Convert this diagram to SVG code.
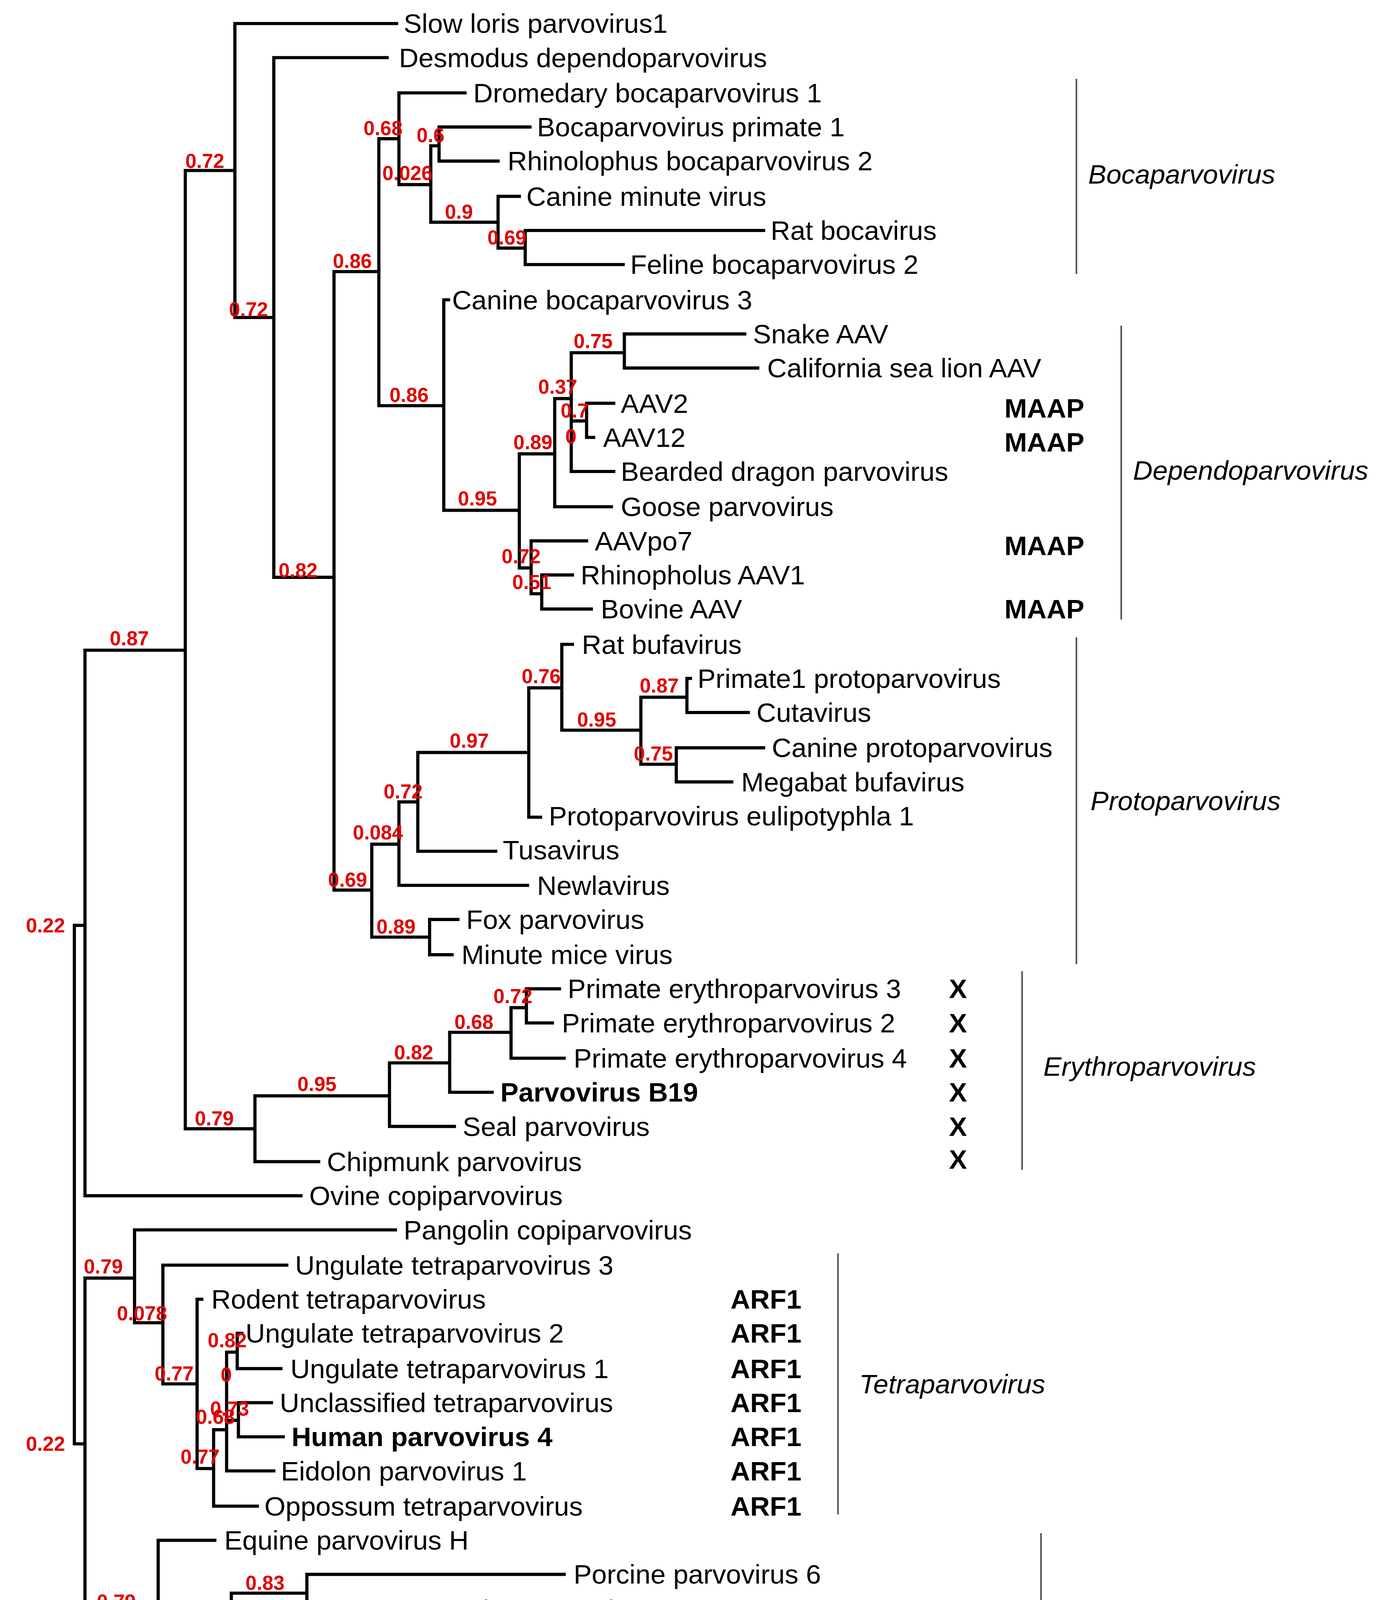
<svg xmlns="http://www.w3.org/2000/svg" width="3536" height="4719" viewBox="0 0 3536 4719">
<style>
.e{fill:none;stroke:#000;stroke-width:2.7;stroke-linecap:square}
.c{fill:none;stroke:#555;stroke-width:1.4}
.t{font-family:"Liberation Sans",Arial,sans-serif;font-size:23px;fill:#000}
.b{font-weight:bold}
.s{font-family:"Liberation Sans",Arial,sans-serif;font-size:17px;font-weight:bold;fill:#e00000}
.k{font-family:"Liberation Sans",Arial,sans-serif;font-size:23px;font-style:italic;fill:#000}
.m{font-family:"Liberation Sans",Arial,sans-serif;font-size:23px;font-weight:bold;fill:#000}
</style>
<rect width="3536" height="4719" fill="#fff"/>
<g transform="scale(3.022,3.01)">
<g id="connectors">
<path class="e" d="M63,787V1228M63,787H72M63,1228H72
M72,553V1017M72,1017H255
M72,553H157M157,145V960
M157,145H199M199,20V270M199,20H336
M199,270H232M232,49V491M232,49H328
M232,491H283M283,231V757
M283,231H321M321,118V345
M321,118H338M338,79V157M338,79H394
M338,157H365M365,124V189
M365,124H372M372,108V137M372,108H449M372,137H422
M365,189H422M422,167V211M422,167H440
M422,211H445M445,196V225M445,196H647M445,225H528
M321,345H376M376,255V434M376,255H380
M376,434H440M440,386V483
M440,386H470M470,339V431M470,431H518
M470,339H484M484,300V401M484,401H520
M484,300H529M529,284V313M529,284H631M529,313H642
M484,358H497M497,343V372M497,343H520M497,372H503
M440,483H450M450,460V505M450,460H497
M450,505H459M459,489V518M459,489H485M459,518H501
M283,757H315M315,718V797
M315,718H338M338,682V753M338,753H447
M338,682H354M354,640V724M354,724H420
M354,640H448M448,585V695M448,695H458
M448,585H476M476,548V621M476,548H485
M476,621H543M543,593V650
M543,593H582M582,577V606M582,577H585M582,606H634
M543,650H573M573,636V665M573,636H647M573,665H620
M315,797H364M364,782V812M364,782H388M364,812H383
M157,960H216M216,932V988M216,988H270
M216,932H330M330,904V958M330,958H385
M330,904H381M381,878V929M381,929H417
M381,878H433M433,857V900M433,900H478
M433,857H446M446,841V870M446,841H474M446,870H468
M72,1087V1372
M72,1087H114M114,1046V1125M114,1046H335
M114,1125H138M138,1076V1177M138,1076H243
M138,1177H167M167,1105V1249M167,1105H171
M167,1249H181M181,1216V1281M181,1281H218
M181,1216H192M192,1150V1251M192,1251H232
M192,1150H201M201,1134V1164M201,1134H205M201,1164H238
M192,1208H202M202,1193V1222M202,1193H230M202,1222H240
M72,1372H134M134,1310V1434M134,1310H182
M134,1434H196M196,1355V1483
M196,1355H260M260,1339V1369M260,1339H478M260,1369H355
M196,1413H253M253,1398V1427M253,1398H391M253,1427H416
M196,1483H230M230,1457V1509M230,1457H416
M230,1509H278M278,1486V1530M278,1486H458
M278,1530H370M370,1515V1545M370,1515H647M370,1545H497"/>
</g>
<g id="support">
<text class="s" x="22" y="793">0.22</text><text class="s" x="22" y="1234">0.22</text>
<text class="s" x="93" y="549">0.87</text>
<text class="s" x="157" y="143">0.72</text><text class="s" x="194" y="269">0.72</text>
<text class="s" x="236" y="491">0.82</text><text class="s" x="282" y="228">0.86</text>
<text class="s" x="308" y="115">0.68</text><text class="s" x="353" y="121">0.6</text>
<text class="s" x="324" y="153">0.026</text><text class="s" x="377" y="186">0.9</text>
<text class="s" x="413" y="208">0.69</text><text class="s" x="330" y="342">0.86</text>
<text class="s" x="388" y="430">0.95</text><text class="s" x="486" y="296">0.75</text>
<text class="s" x="456" y="335">0.37</text><text class="s" x="475" y="355">0.7</text>
<text class="s" x="479" y="377">0</text><text class="s" x="435" y="382">0.89</text>
<text class="s" x="425" y="479">0.72</text><text class="s" x="434" y="501">0.51</text>
<text class="s" x="442" y="581">0.76</text><text class="s" x="489" y="618">0.95</text>
<text class="s" x="542" y="589">0.87</text><text class="s" x="537" y="647">0.75</text>
<text class="s" x="381" y="636">0.97</text><text class="s" x="325" y="679">0.72</text>
<text class="s" x="299" y="714">0.084</text><text class="s" x="278" y="754">0.69</text>
<text class="s" x="319" y="794">0.89</text>
<text class="s" x="165" y="957">0.79</text><text class="s" x="252" y="928">0.95</text>
<text class="s" x="334" y="901">0.82</text><text class="s" x="385" y="875">0.68</text>
<text class="s" x="418" y="853">0.72</text>
<text class="s" x="71" y="1083">0.79</text><text class="s" x="99" y="1123">0.078</text>
<text class="s" x="131" y="1174">0.77</text><text class="s" x="176" y="1146">0.82</text>
<text class="s" x="187" y="1175">0</text><text class="s" x="178" y="1204">0.73</text>
<text class="s" x="166" y="1211">0.68</text><text class="s" x="153" y="1245">0.77</text>
<text class="s" x="82" y="1368">0.79</text><text class="s" x="145" y="1430">0.75</text>
<text class="s" x="208" y="1352">0.83</text><text class="s" x="192" y="1381">0</text>
<text class="s" x="204" y="1410">0.75</text><text class="s" x="192" y="1479">0.59</text>
<text class="s" x="233" y="1505">0.75</text><text class="s" x="303" y="1528">0.78</text>
</g>
<g id="n1"><text class="t" x="342" y="28">Slow loris parvovirus1</text></g>
<g id="n2"><text class="t" x="338" y="57">Desmodus dependoparvovirus</text></g>
<g id="n3"><text class="t" x="401" y="87">Dromedary bocaparvovirus 1</text></g>
<g id="n4"><text class="t" x="455" y="116">Bocaparvovirus primate 1</text></g>
<g id="n5"><text class="t" x="430" y="145">Rhinolophus bocaparvovirus 2</text></g>
<g id="n6"><text class="t" x="446" y="175">Canine minute virus</text></g>
<g id="n7"><text class="t" x="653" y="204">Rat bocavirus</text></g>
<g id="n8"><text class="t" x="534" y="233">Feline bocaparvovirus 2</text></g>
<g id="n9"><text class="t" x="383" y="263">Canine bocaparvovirus 3</text></g>
<g id="n10"><text class="t" x="638" y="292">Snake AAV</text></g>
<g id="n11"><text class="t" x="650" y="321">California sea lion AAV</text></g>
<g id="n12"><text class="t" x="526" y="351">AAV2</text><text class="m" x="851" y="355">MAAP</text></g>
<g id="n13"><text class="t" x="511" y="380">AAV12</text><text class="m" x="851" y="384">MAAP</text></g>
<g id="n14"><text class="t" x="526" y="409">Bearded dragon parvovirus</text></g>
<g id="n15"><text class="t" x="526" y="439">Goose parvovirus</text></g>
<g id="n16"><text class="t" x="504" y="468">AAVpo7</text><text class="m" x="851" y="472">MAAP</text></g>
<g id="n17"><text class="t" x="492" y="497">Rhinopholus AAV1</text></g>
<g id="n18"><text class="t" x="509" y="526">Bovine AAV</text><text class="m" x="851" y="526">MAAP</text></g>
<g id="n19"><text class="t" x="493" y="556">Rat bufavirus</text></g>
<g id="n20"><text class="t" x="591" y="585">Primate1 protoparvovirus</text></g>
<g id="n21"><text class="t" x="641" y="614">Cutavirus</text></g>
<g id="n22"><text class="t" x="654" y="644">Canine protoparvovirus</text></g>
<g id="n23"><text class="t" x="628" y="673">Megabat bufavirus</text></g>
<g id="n24"><text class="t" x="465" y="702">Protoparvovirus eulipotyphla 1</text></g>
<g id="n25"><text class="t" x="426" y="731">Tusavirus</text></g>
<g id="n26"><text class="t" x="455" y="761">Newlavirus</text></g>
<g id="n27"><text class="t" x="395" y="790">Fox parvovirus</text></g>
<g id="n28"><text class="t" x="391" y="820">Minute mice virus</text></g>
<g id="n29"><text class="t" x="481" y="849">Primate erythroparvovirus 3</text><text class="m" x="804" y="849">X</text></g>
<g id="n30"><text class="t" x="476" y="878">Primate erythroparvovirus 2</text><text class="m" x="804" y="878">X</text></g>
<g id="n31"><text class="t" x="486" y="908">Primate erythroparvovirus 4</text><text class="m" x="804" y="908">X</text></g>
<g id="n32"><text class="t b" x="424" y="937">Parvovirus B19</text><text class="m" x="804" y="937">X</text></g>
<g id="n33"><text class="t" x="392" y="966">Seal parvovirus</text><text class="m" x="804" y="966">X</text></g>
<g id="n34"><text class="t" x="277" y="996">Chipmunk parvovirus</text><text class="m" x="804" y="994">X</text></g>
<g id="n35"><text class="t" x="262" y="1025">Ovine copiparvovirus</text></g>
<g id="n36"><text class="t" x="342" y="1054">Pangolin copiparvovirus</text></g>
<g id="n37"><text class="t" x="250" y="1084">Ungulate tetraparvovirus 3</text></g>
<g id="n38"><text class="t" x="179" y="1113">Rodent tetraparvovirus</text><text class="m" x="619" y="1113">ARF1</text></g>
<g id="n39"><text class="t" x="208" y="1142">Ungulate tetraparvovirus 2</text><text class="m" x="619" y="1142">ARF1</text></g>
<g id="n40"><text class="t" x="246" y="1172">Ungulate tetraparvovirus 1</text><text class="m" x="619" y="1172">ARF1</text></g>
<g id="n41"><text class="t" x="237" y="1201">Unclassified tetraparvovirus</text><text class="m" x="619" y="1201">ARF1</text></g>
<g id="n42"><text class="t b" x="247" y="1230">Human parvovirus 4</text><text class="m" x="619" y="1230">ARF1</text></g>
<g id="n43"><text class="t" x="238" y="1259">Eidolon parvovirus 1</text><text class="m" x="619" y="1259">ARF1</text></g>
<g id="n44"><text class="t" x="224" y="1289">Oppossum tetraparvovirus</text><text class="m" x="619" y="1289">ARF1</text></g>
<g id="n45"><text class="t" x="190" y="1318">Equine parvovirus H</text></g>
<g id="n46"><text class="t" x="486" y="1347">Porcine parvovirus 6</text></g>
<g id="n47"><text class="t" x="362" y="1377">Porcine parvovirus 5</text></g>
<g id="n48"><text class="t" x="399" y="1406">Copiparvovirus ungulate5</text></g>
<g id="n49"><text class="t" x="423" y="1435">Sesavirus</text></g>
<g id="n50"><text class="t" x="423" y="1465">Sika deer copiparvovirus</text></g>
<g id="n51"><text class="t" x="466" y="1494">Horse parvovirus CSF</text></g>
<g id="n52"><text class="t" x="654" y="1523">Bovine parvovirus 2</text></g>
<g id="n53"><text class="t" x="505" y="1553">Bovine copiparvovirus 3</text></g>
<g id="clades">
<path class="c" d="M912,67V233M950,277V527M912,542V820M866,826V995M710,1066V1288M882,1304V1556"/>
<text class="k" x="922" y="156">Bocaparvovirus</text>
<text class="k" x="960" y="408">Dependoparvovirus</text>
<text class="k" x="924" y="689">Protoparvovirus</text>
<text class="k" x="884" y="915">Erythroparvovirus</text>
<text class="k" x="728" y="1185">Tetraparvovirus</text>
<text class="k" x="901" y="1425">Copiparvovirus</text>
</g>
</g>
</svg>
